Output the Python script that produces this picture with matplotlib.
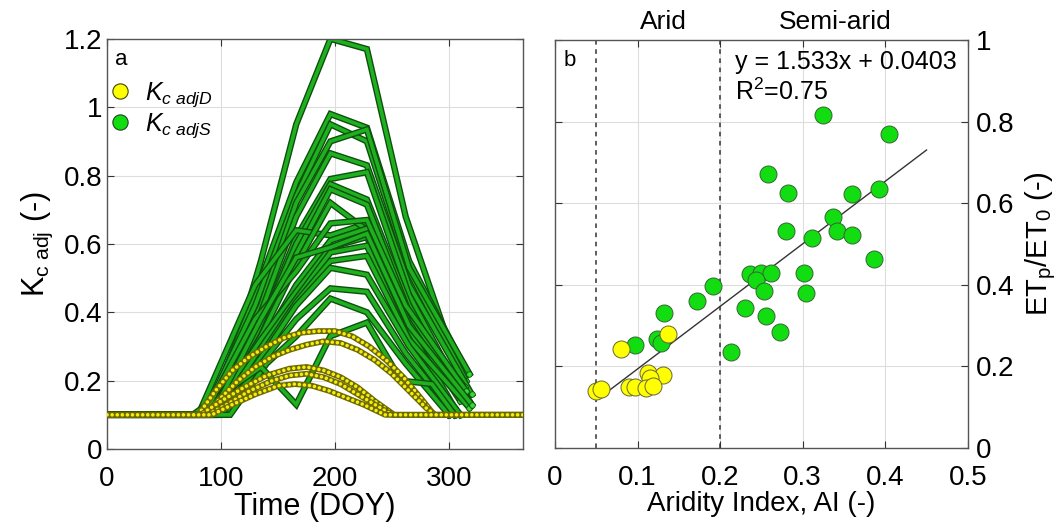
import matplotlib
matplotlib.use('Agg')
import matplotlib.pyplot as plt
import matplotlib.patheffects as pe
from matplotlib.lines import Line2D
import numpy as np

plt.rcParams['font.family'] = ['Liberation Sans', 'DejaVu Sans']
plt.rcParams['mathtext.fontset'] = 'custom'
plt.rcParams['mathtext.rm'] = 'Liberation Sans'
plt.rcParams['mathtext.it'] = 'Liberation Sans:italic'

# panel a: green (S) series, vertices of each seasonal curve
green_doy = [
    [0, 95, 135, 166, 196, 228, 262, 302],
    [0, 88, 130, 166, 196, 228, 265, 312],
    [0, 85, 130, 166, 196, 228, 265, 315],
    [0, 90, 135, 166, 196, 228, 265, 318],
    [0, 92, 135, 166, 196, 228, 265, 320],
    [0, 95, 135, 166, 196, 228, 265, 305],
    [0, 90, 135, 166, 196, 228, 265, 310],
    [0, 100, 135, 166, 196, 228, 265, 318],
    [0, 80, 130, 166, 196, 228, 262, 300],
    [0, 95, 135, 166, 196, 228, 265, 314],
    [0, 100, 140, 166, 196, 228, 265, 310],
    [0, 90, 135, 166, 196, 228, 265, 305],
    [0, 95, 140, 166, 196, 228, 262, 300],
    [0, 105, 140, 166, 196, 228, 265, 318],
    [0, 98, 140, 166, 196, 228, 265, 310],
    [0, 100, 140, 166, 196, 228, 262, 305],
    [0, 108, 140, 166, 196, 228, 262, 300],
    [0, 75, 135, 166, 196, 228, 258, 285, 305],
    [0, 85, 130, 166, 196, 228, 262, 315],
    [0, 92, 135, 166, 196, 228, 265, 320],
]
green_kc = [
    [0.1, 0.1, 0.55, 0.95, 1.20, 1.17, 0.68, 0.29],
    [0.1, 0.1, 0.45, 0.78, 0.98, 0.94, 0.55, 0.25],
    [0.1, 0.1, 0.42, 0.74, 0.95, 0.90, 0.52, 0.20],
    [0.1, 0.1, 0.42, 0.72, 0.90, 0.935, 0.53, 0.22],
    [0.1, 0.1, 0.40, 0.68, 0.865, 0.83, 0.48, 0.16],
    [0.1, 0.1, 0.36, 0.62, 0.79, 0.81, 0.45, 0.20],
    [0.1, 0.1, 0.36, 0.60, 0.775, 0.73, 0.42, 0.15],
    [0.1, 0.1, 0.33, 0.57, 0.76, 0.715, 0.40, 0.14],
    [0.1, 0.1, 0.48, 0.64, 0.625, 0.66, 0.40, 0.12],
    [0.1, 0.1, 0.33, 0.54, 0.72, 0.64, 0.38, 0.18],
    [0.1, 0.1, 0.33, 0.48, 0.61, 0.645, 0.37, 0.14],
    [0.1, 0.1, 0.32, 0.46, 0.59, 0.62, 0.35, 0.12],
    [0.1, 0.1, 0.32, 0.44, 0.575, 0.595, 0.34, 0.10],
    [0.1, 0.1, 0.30, 0.43, 0.55, 0.565, 0.32, 0.12],
    [0.1, 0.1, 0.29, 0.42, 0.53, 0.51, 0.30, 0.10],
    [0.1, 0.1, 0.27, 0.38, 0.47, 0.46, 0.28, 0.10],
    [0.1, 0.1, 0.25, 0.33, 0.44, 0.40, 0.25, 0.10],
    [0.1, 0.1, 0.24, 0.13, 0.33, 0.37, 0.20, 0.19, 0.10],
    [0.1, 0.1, 0.38, 0.52, 0.66, 0.67, 0.42, 0.17],
    [0.1, 0.1, 0.38, 0.56, 0.59, 0.63, 0.36, 0.13],
]

# panel a: yellow (D) series
yellow_doy = [
    [0, 80, 95, 110, 125, 140, 155, 170, 185, 200, 215, 230, 245, 260, 275, 287, 365],
    [0, 85, 100, 115, 130, 145, 160, 175, 190, 205, 220, 235, 250, 265, 280, 288, 365],
    [0, 82, 100, 120, 140, 160, 175, 190, 205, 220, 235, 252, 365],
    [0, 88, 105, 125, 145, 160, 175, 190, 205, 220, 235, 250, 365],
    [0, 92, 110, 130, 150, 165, 180, 195, 210, 225, 244, 365],
]
yellow_kc = [
    [0.1, 0.1, 0.17, 0.23, 0.27, 0.30, 0.325, 0.34, 0.345, 0.345, 0.33, 0.30, 0.26, 0.21, 0.15, 0.1, 0.1],
    [0.1, 0.1, 0.15, 0.20, 0.24, 0.27, 0.29, 0.305, 0.315, 0.31, 0.29, 0.26, 0.22, 0.17, 0.12, 0.1, 0.1],
    [0.1, 0.1, 0.14, 0.18, 0.215, 0.235, 0.24, 0.23, 0.21, 0.18, 0.14, 0.1, 0.1],
    [0.1, 0.1, 0.13, 0.17, 0.20, 0.215, 0.22, 0.21, 0.19, 0.16, 0.13, 0.1, 0.1],
    [0.1, 0.1, 0.13, 0.16, 0.185, 0.19, 0.185, 0.17, 0.15, 0.13, 0.1, 0.1],
]

# panel b: aridity index vs ETp/ET0
ai_green = [0.325, 0.404, 0.258, 0.282, 0.360, 0.393, 0.337, 0.280, 0.341, 0.360,
            0.311, 0.386, 0.236, 0.249, 0.262, 0.243, 0.302, 0.253, 0.304, 0.191,
            0.172, 0.230, 0.256, 0.273, 0.213, 0.132, 0.123, 0.128, 0.097]
et_green = [0.816, 0.769, 0.671, 0.624, 0.623, 0.634, 0.566, 0.532, 0.531, 0.522,
            0.514, 0.463, 0.426, 0.429, 0.429, 0.411, 0.429, 0.384, 0.379, 0.398,
            0.361, 0.343, 0.324, 0.283, 0.235, 0.330, 0.268, 0.256, 0.253]
ai_yellow = [0.137, 0.080, 0.113, 0.131, 0.115, 0.090, 0.097, 0.110, 0.119, 0.050, 0.056]
et_yellow = [0.279, 0.243, 0.184, 0.179, 0.172, 0.150, 0.150, 0.147, 0.152, 0.140, 0.144]
slope, intercept = 1.533, 0.0403
fit_x = [0.06, 0.45]

fig = plt.figure(figsize=(10.64, 5.32), dpi=100)
ax1 = fig.add_axes([0.1006, 0.156, 0.391, 0.771])
ax2 = fig.add_axes([0.5216, 0.158, 0.388, 0.767])

tube = [pe.Stroke(linewidth=4.6, foreground='#0e4f0e'), pe.Normal()]
for d, k in zip(green_doy, green_kc):
    ax1.plot(d, k, color='#1fb01f', lw=2.6, solid_joinstyle='miter', path_effects=tube, zorder=2)
    ax1.plot(d[-1], k[-1], 'o', ms=4, mfc='#33dd33', mec='#0e4f0e', mew=0.6, zorder=2)

for d, k in zip(yellow_doy, yellow_kc):
    ax1.plot(d, k, color='#6e6a00', lw=4.2, solid_capstyle='round', zorder=3)
    ax1.plot(d, k, color='#f2ef10', lw=2.6, linestyle=(0, (0.01, 1.4)),
             dash_capstyle='round', zorder=3)

ax1.set_xlim(0, 365)
ax1.set_ylim(0, 1.2)
ax1.set_xticks([0, 100, 200, 300])
ax1.set_yticks([0, 0.2, 0.4, 0.6, 0.8, 1.0, 1.2])
ax1.set_yticklabels(['0', '0.2', '0.4', '0.6', '0.8', '1', '1.2'])
ax1.set_xlabel('Time (DOY)', fontsize=22, labelpad=0)
ax1.set_ylabel(r'K$_{\rm c\ adj}$ (-)', fontsize=22, labelpad=6)
ax1.text(0.02, 0.975, 'a', transform=ax1.transAxes, fontsize=16, va='top')
handles = [
    Line2D([], [], ls='', marker='o', ms=11, mfc='#ffff00', mec='#444400', mew=0.8),
    Line2D([], [], ls='', marker='o', ms=11, mfc='#11dd11', mec='#224422', mew=0.8),
]
ax1.legend(handles, [r'$K_{c\ adjD}$', r'$K_{c\ adjS}$'], loc='upper left',
           bbox_to_anchor=(-0.065, 0.935), frameon=False, fontsize=18,
           handletextpad=0.0, labelspacing=0.1, borderaxespad=0.2)

ax2.plot(fit_x, [slope * v + intercept for v in fit_x], color='#333333', lw=1.0, zorder=2)
ax2.scatter(ai_green, et_green, s=150, c='#11dd11', edgecolors='#336633', linewidths=0.7, zorder=3)
ax2.scatter(ai_yellow, et_yellow, s=150, c='#ffff00', edgecolors='#666633', linewidths=0.7, zorder=4)
for xv in [0.05, 0.2]:
    ax2.axvline(xv, color='#333333', ls=(0, (3, 3)), lw=1.1, zorder=1)
ax2.set_xlim(0, 0.5)
ax2.set_ylim(0, 1)
ax2.set_xticks([0, 0.1, 0.2, 0.3, 0.4, 0.5])
ax2.set_xticklabels(['0', '0.1', '0.2', '0.3', '0.4', '0.5'])
ax2.set_yticks([0, 0.2, 0.4, 0.6, 0.8, 1.0])
ax2.set_yticklabels(['0', '0.2', '0.4', '0.6', '0.8', '1'])
ax2.yaxis.tick_right()
ax2.yaxis.set_label_position('right')
ax2.set_xlabel('Aridity Index, AI (-)', fontsize=20, labelpad=0)
ax2.set_ylabel(r'ET$_{\rm p}$/ET$_{\rm 0}$ (-)', fontsize=21, labelpad=6)
ax2.text(0.02, 0.975, 'b', transform=ax2.transAxes, fontsize=16, va='top')
ax2.text(0.218, 0.975, 'y = 1.533x + 0.0403\nR$^2$=0.75', transform=ax2.transData,
         fontsize=18, va='top', linespacing=1.2)
ax2.text(0.131, 1.015, 'Arid', ha='center', va='bottom', fontsize=19,
         transform=ax2.get_xaxis_transform())
ax2.text(0.34, 1.015, 'Semi-arid', ha='center', va='bottom', fontsize=19,
         transform=ax2.get_xaxis_transform())

for ax in (ax1, ax2):
    ax.grid(True, color='#dddddd', lw=0.8)
    ax.set_axisbelow(True)
    ax.tick_params(direction='in', top=True, right=True, left=True, bottom=True,
                   labelsize=20, length=5, color='#333333')
    ax.tick_params(axis='x', pad=12)
    for sp in ax.spines.values():
        sp.set_color('#555555')
        sp.set_linewidth(1.0)
ax2.tick_params(labelleft=False, labelright=True)
ax2.tick_params(axis='y', pad=6)

fig.savefig('out.png', dpi=100)
